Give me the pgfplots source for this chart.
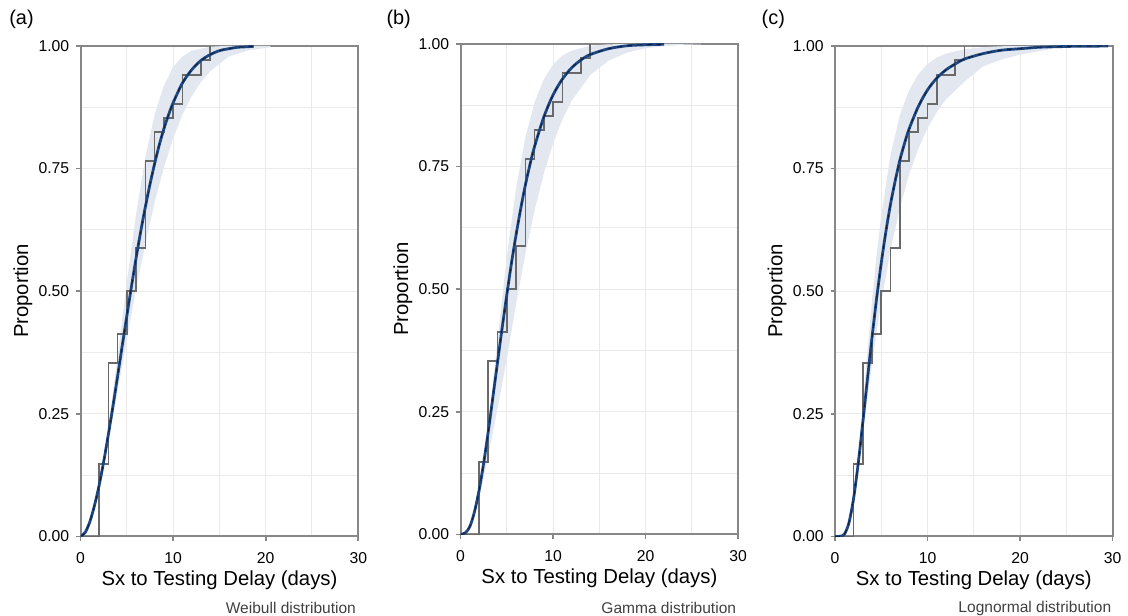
\documentclass[border=0pt]{standalone}
\usepackage{fontspec}
\setmainfont{Liberation Sans}
\usepackage{pgfplots}
\usepackage{pgfplotstable}
\pgfplotsset{compat=1.18}

\definecolor{fitcol}{RGB}{30,70,128}
\definecolor{stepcol}{RGB}{105,105,105}
\definecolor{bandcol}{RGB}{227,231,240}
\definecolor{gridcol}{RGB}{234,234,234}
\definecolor{framecol}{RGB}{135,135,135}

% empirical CDF (same data in all three panels)
\pgfplotstableread{
x y
0 0
2 0.147
3 0.353
4 0.412
5 0.500
6 0.588
7 0.765
8 0.824
9 0.853
10 0.882
11 0.941
13 0.971
14 1.000
}\ecdf

% (a) Weibull fit, and its band: upper edge left to right, then lower edge back
\pgfplotstableread{
x y
0 0
0.5 0.008
1 0.030
1.5 0.063
2 0.104
2.5 0.153
3 0.208
3.5 0.266
4 0.327
4.5 0.389
5 0.450
5.5 0.510
6 0.568
6.5 0.622
7 0.672
7.5 0.718
8 0.760
8.5 0.798
9 0.831
9.5 0.859
10 0.884
11 0.924
12 0.951
13 0.970
14 0.982
15 0.990
16 0.994
17 0.997
18 0.998
18.7 0.999
}\wfit
\pgfplotstableread{
x y
0 0
1 0.025
2 0.101
3 0.222
4 0.368
5 0.519
6 0.658
7 0.773
8 0.860
9 0.919
10 0.957
11 0.978
12 0.990
14 0.998
16 1.000
20.5 1.000
20.5 0.997
18 0.990
16 0.978
14 0.948
13 0.926
12 0.897
11 0.859
10 0.812
9 0.752
8 0.681
7 0.597
6 0.504
5 0.402
4 0.296
3 0.194
2 0.103
1 0.033
0 0
}\wband

% (b) Gamma
\pgfplotstableread{
x y
0 0
0.5 0.003
1 0.016
1.5 0.046
2 0.090
2.5 0.146
3 0.211
3.5 0.281
4 0.352
4.5 0.422
5 0.489
5.5 0.553
6 0.611
6.5 0.664
7 0.712
7.5 0.754
8 0.791
9 0.851
10 0.896
11 0.928
12 0.951
13 0.967
14 0.978
16 0.990
18 0.996
20 0.998
22 0.999
}\gfit
\pgfplotstableread{
x y
0 0
1 0.009
2 0.079
3 0.221
4 0.398
5 0.567
6 0.706
7 0.809
8 0.881
9 0.928
10 0.958
11 0.976
12 0.986
14 0.996
16 0.999
26 1.000
26 0.999
24 0.998
22 0.995
20 0.991
18 0.982
16 0.966
14 0.936
12 0.884
11 0.846
10 0.797
9 0.736
8 0.661
7 0.572
6 0.470
5 0.358
4 0.258
3 0.160
2 0.072
1 0.012
0 0
}\gband

% (c) Lognormal
\pgfplotstableread{
x y
0 0
0.5 0.000
1 0.004
1.5 0.027
2 0.076
2.5 0.147
3 0.231
3.5 0.319
4 0.405
4.5 0.485
5 0.557
5.5 0.621
6 0.677
6.5 0.724
7 0.766
7.5 0.800
8 0.830
9 0.876
10 0.910
11 0.934
12 0.951
13 0.963
14 0.973
16 0.984
18 0.991
20 0.994
22 0.997
24 0.998
26 0.999
29.5 0.9994
}\lfit
\pgfplotstableread{
x y
0 0
1 0.002
2 0.076
2.5 0.161
3 0.266
3.5 0.376
4 0.480
4.5 0.574
5 0.654
6 0.777
7 0.858
8 0.909
9 0.942
10 0.963
11 0.976
12 0.984
14 0.993
16 0.997
18 0.999
23 1.000
23 0.992
22 0.989
20 0.982
18 0.972
16 0.958
14 0.927
12 0.891
11 0.865
10 0.832
9 0.790
8 0.737
7 0.669
6 0.583
5 0.477
4.5 0.416
4 0.350
3.5 0.280
3 0.209
2.5 0.141
2 0.080
1.5 0.034
1 0.008
0 0
}\lband

\pgfplotsset{
  panel/.style={
    scale only axis, width=139.5pt, height=246.5pt,
    anchor=south west,
    xmin=0, xmax=30, ymin=0, ymax=1,
    xtick={0,10,20,30}, xticklabels={0,10,20,30},
    minor xtick={5,15,25},
    ytick={0,0.25,0.5,0.75,1},
    yticklabels={0.00,0.25,0.50,0.75,1.00},
    minor ytick={0.125,0.375,0.625,0.875},
    grid=both,
    major grid style={gridcol, line width=0.5pt},
    minor grid style={gridcol, line width=0.5pt},
    tick align=outside, tick pos=left,
    major tick length=2.2pt, minor tick length=0pt,
    axis line style={framecol, line width=1pt},
    major tick style={framecol, line width=0.8pt},
    tick label style={font=\fontsize{7.9}{9}\selectfont},
    xticklabel style={yshift=-2.2pt},
    label style={font=\fontsize{10.2}{12}\selectfont},
    xlabel={Sx to Testing Delay (days)},
    ylabel={Proportion},
    xlabel style={at={(axis description cs:0.5,-0.09)}, anchor=center},
    ylabel style={at={(axis description cs:-0.208,0.5)}, anchor=center},
  },
  bandfill/.style={fill=bandcol, draw=none},
  ecdfline/.style={const plot, stepcol, line width=0.85pt},
  fitline/.style={fitcol, line width=1.4pt, smooth},
  fitdashline/.style={black, line width=0.45pt, dash pattern=on 2.5pt off 2.5pt, opacity=0.55, smooth},
}

\begin{document}
\begin{tikzpicture}
\path (0,0) rectangle (564pt,309pt);

\begin{axis}[panel, at={(40.5pt,39.5pt)}]
  \addplot[bandfill] table {\wband};
  \addplot[ecdfline] table {\ecdf};
  \addplot[fitline] table {\wfit};
  \addplot[fitdashline] table {\wfit};
\end{axis}

\begin{axis}[panel, at={(231.4pt,40.5pt)}]
  \addplot[bandfill] table {\gband};
  \addplot[ecdfline] table {\ecdf};
  \addplot[fitline] table {\gfit};
  \addplot[fitdashline] table {\gfit};
\end{axis}

\begin{axis}[panel, at={(419.5pt,39.5pt)}]
  \addplot[bandfill] table {\lband};
  \addplot[ecdfline] table {\ecdf};
  \addplot[fitline] table {\lfit};
  \addplot[fitdashline] table {\lfit};
\end{axis}

\node[anchor=west, inner sep=0pt, font=\fontsize{10}{12}\selectfont] at (4.5pt,299.5pt) {(a)};
\node[anchor=west, inner sep=0pt, font=\fontsize{10}{12}\selectfont] at (194pt,299.5pt) {(b)};
\node[anchor=west, inner sep=0pt, font=\fontsize{10}{12}\selectfont] at (382.5pt,299.5pt) {(c)};

\node[anchor=east, inner sep=0pt, text=black!75, font=\fontsize{7.8}{9}\selectfont] at (179pt,3.4pt) {Weibull distribution};
\node[anchor=east, inner sep=0pt, text=black!75, font=\fontsize{7.8}{9}\selectfont] at (370pt,3.4pt) {Gamma distribution};
\node[anchor=east, inner sep=0pt, text=black!75, font=\fontsize{7.8}{9}\selectfont] at (558.5pt,3.4pt) {Lognormal distribution};
\end{tikzpicture}
\end{document}
